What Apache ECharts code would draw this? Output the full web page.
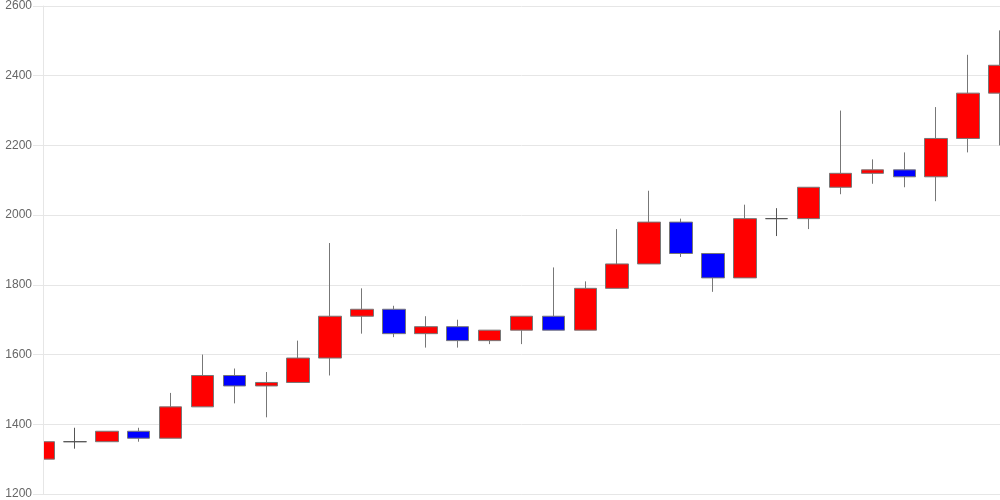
<!DOCTYPE html>
<html>
<head>
<meta charset="utf-8">
<script src="https://cdn.jsdelivr.net/npm/echarts@6/dist/echarts.min.js"></script>
<style>html,body{margin:0;padding:0;background:#fff}#c{width:1000px;height:500px}</style>
</head>
<body>
<div id="c"></div>
<script>
// candle index labels (not shown)
const categories = ['1','2','3','4','5','6','7','8','9','10','11','12','13','14','15','16','17','18','19','20','21','22','23','24','25','26','27','28','29','30','31'];
const openValues  = [1300,1350,1350,1380,1360,1450,1540,1510,1520,1590,1710,1730,1660,1680,1640,1670,1710,1670,1790,1860,1980,1890,1820,1990,1990,2080,2120,2130,2110,2220,2350];
const closeValues = [1350,1350,1380,1360,1450,1540,1510,1520,1590,1710,1730,1660,1680,1640,1670,1710,1670,1790,1860,1980,1890,1820,1990,1990,2080,2120,2130,2110,2220,2350,2430];
const lowValues   = [1300,1330,1350,1350,1360,1450,1460,1420,1520,1540,1660,1650,1620,1620,1630,1630,1670,1670,1790,1860,1880,1780,1820,1940,1960,2060,2090,2080,2040,2180,2200];
const highValues  = [1370,1390,1380,1390,1490,1600,1560,1550,1640,1920,1790,1740,1710,1700,1670,1710,1850,1810,1960,2070,1990,1890,2030,2020,2080,2300,2160,2180,2310,2460,2530];
const yTicks = [1200,1400,1600,1800,2000,2200,2400,2600];

const data = categories.map((c, i) => [openValues[i], closeValues[i], lowValues[i], highValues[i]]);

const yMin = yTicks[0], yMax = yTicks[yTicks.length - 1];
const chart = echarts.init(document.getElementById('c'), null, {renderer: 'canvas'});
chart.setOption({
  animation: false,
  backgroundColor: '#fff',
  grid: {left: 43, right: 0, top: 6, bottom: 6, containLabel: false, outerBoundsMode: 'none'},
  graphic: [{
    type: 'rect',
    left: 0, top: 0, z: 5,
    shape: {width: 43, height: 500},
    style: {fill: '#fff'},
    silent: true
  }],
  xAxis: {
    type: 'category',
    data: categories,
    boundaryGap: false,
    z: 0,
    axisLine: {show: true, lineStyle: {color: '#e6e6e6'}},
    axisTick: {show: false},
    axisLabel: {show: false},
    splitLine: {show: false}
  },
  yAxis: [{
    type: 'value',
    min: yMin, max: yMax, interval: 200,
    z: 0,
    axisLine: {show: false},
    axisTick: {show: false},
    axisLabel: {show: false},
    splitLine: {show: true, lineStyle: {color: '#e6e6e6'}}
  }, {
    type: 'value',
    position: 'left',
    min: yMin, max: yMax, interval: 200,
    z: 10,
    axisLine: {show: true, lineStyle: {color: '#e6e6e6'}},
    axisTick: {show: true, length: 10, lineStyle: {color: '#e6e6e6'}},
    axisLabel: {margin: 11, color: '#666', fontSize: 12, fontFamily: 'Liberation Sans, Arial, sans-serif',
      formatter: v => String(v)},
    splitLine: {show: false}
  }],
  series: [{
    type: 'candlestick',
    data: data,
    yAxisIndex: 0,
    barWidth: 23,
    z: 2,
    itemStyle: {
      color: '#ff0000',
      color0: '#0000ff',
      borderColor: '#777',
      borderColor0: '#777',
      borderColorDoji: '#555',
      borderWidth: 1
    }
  }]
});
</script>
</body>
</html>
